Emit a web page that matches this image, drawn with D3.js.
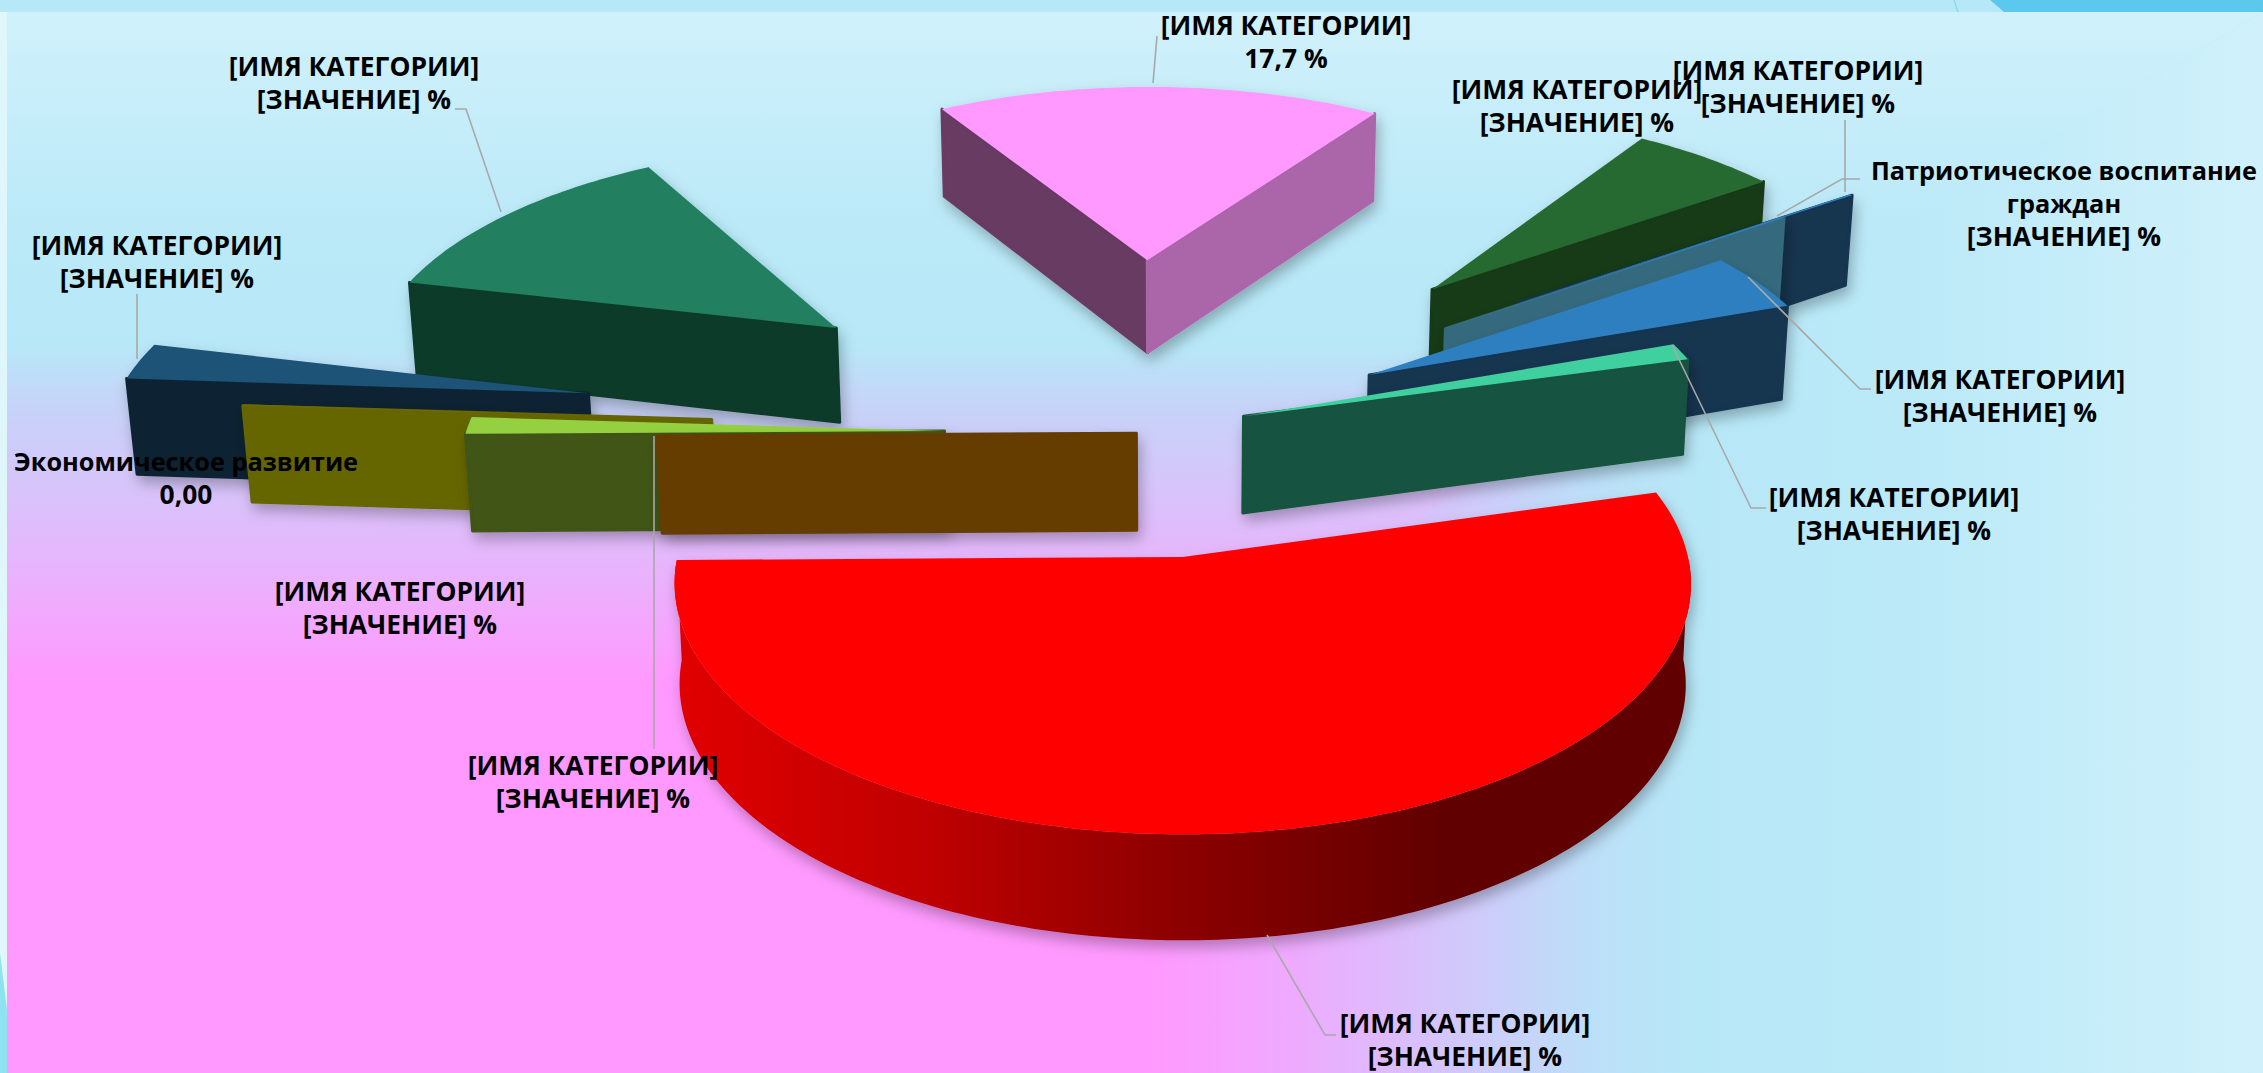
<!DOCTYPE html>
<html>
<head>
<meta charset="utf-8">
<script src="https://d3js.org/d3.v7.min.js"></script>
<style>
html, body { margin: 0; padding: 0; background: #b7e8f7; }
svg { display: block; }
text { font-family: "Open Sans", sans-serif; font-weight: 700; fill: #000; }
</style>
</head>
<body>
<svg class="container" width="2263" height="1073"></svg>
<script>
// slices clockwise, starting from the big red one
let categories = ["[ИМЯ КАТЕГОРИИ]", "Экономическое развитие", "[ИМЯ КАТЕГОРИИ]", "[ИМЯ КАТЕГОРИИ]", "[ИМЯ КАТЕГОРИИ]",
    "[ИМЯ КАТЕГОРИИ]", "[ИМЯ КАТЕГОРИИ]", "[ИМЯ КАТЕГОРИИ]", "Патриотическое воспитание граждан", "[ИМЯ КАТЕГОРИИ]",
    "[ИМЯ КАТЕГОРИИ]", "[ИМЯ КАТЕГОРИИ]"];
let values = [54.0, 0, 1.2, 0.1, 2.6, 12.8, 17.7, 5.8, 0.1, 0.1, 4.2, 1.2];
let valueLabels = ["[ЗНАЧЕНИЕ] %", "0,00", "[ЗНАЧЕНИЕ] %", "[ЗНАЧЕНИЕ] %", "[ЗНАЧЕНИЕ] %", "[ЗНАЧЕНИЕ] %",
    "17,7 %", "[ЗНАЧЕНИЕ] %", "[ЗНАЧЕНИЕ] %", "[ЗНАЧЕНИЕ] %", "[ЗНАЧЕНИЕ] %", "[ЗНАЧЕНИЕ] %"];

// explosion of each slice, in pie radii, and how far it leaves the bisector (degrees)
let explode = [0.541, 0.082, 0.482, 0.975, 1.259, 0.885, 0.83, 0.887, 0.762, 0.978, 0.488, 0.157];
let explodeTilt = [6.5, -9.5, -2, -1, -1, -3.5, -5.8, -3.5, -3.4, -3.4, -4, -5.6];

let topColors = ["#ff0000", "#774400", "#94d040", "#706800", "#1a5276", "#208060", "#ff99ff", "#286a30", "#2e7fc0", "#2e7fc0", "#2e7fc0", "#40d0a0"];
let startWallColors = ["#600000", "#663c00", "#3f5418", "#666600", "#0c2233", "#0e3a2b", "#673a63", "#163a16", "#356b7e", "#13344f", "#13344f", "#19533f"];
let endWallColors = ["#600000", "#663c00", "#3f5418", "#666600", "#0c2233", "#0e3a2b", "#ab65a9", "#163a16", "#356b7e", "#13344f", "#13344f", "#19533f"];

let labelCenters = [[1465, 1024], [186, 462], [593, 766], [400, 592], [157, 246], [354, 67], [1286, 26], [1577, 90], [2064, 171], [1798, 71], [2000, 380], [1894, 498]];
let leaders = [
    [[1267, 935], [1325, 1035], [1336, 1035]],
    [],
    [[654, 436], [654, 749]],
    [],
    [[137, 294], [137, 359]],
    [[455, 109], [466, 109], [501, 212]],
    [[1157, 36], [1153, 83]],
    [],
    [[1860, 179], [1842, 179], [1777, 216]],
    [[1845, 120], [1845, 192]],
    [[1871, 389], [1860, 389], [1748, 277]],
    [[1766, 508], [1751, 508], [1672, 345]]
];

let centerX = 1175;
let centerY = 430;
let perspective = 0.1;
let depth = 97;
let xScale = d3.scaleLinear().domain([0, 1]).range([0, 478]);
let yScale = d3.scaleLinear().domain([0, 1]).range([0, 222]);
let svg = d3.select(".container");
let defs = svg.append("defs");

drawBackground();

let pieData = d3.pie().sort(null).value(d => d)
    .startAngle(rad(74.5)).endAngle(rad(434.5))(values);
let slices = pieData.map(buildSlice);
let drawOrder = slices.slice().sort((a, b) => a.apexY - b.apexY);
drawOrder.forEach(drawSlice);
drawLeaders();
drawLabels();


function rad(deg) {
    return deg * Math.PI / 180;
}
function project(x, y, dropped) {
    let s = 1 / (1 - perspective * y);
    let px = centerX + xScale(x) * s;
    let py = centerY + yScale(y) * s;
    if (dropped) {
        px = centerX + (px - centerX) * 0.99;
        py += depth * (1 + 0.06 * y);
    }
    return [px, py];
}
function buildSlice(d, i) {
    let dir = (d.startAngle + d.endAngle) / 2 + rad(explodeTilt[i]);
    return {
        index: i,
        a0: d.startAngle,
        a1: d.endAngle,
        apexX: explode[i] * Math.sin(dir),
        apexY: -explode[i] * Math.cos(dir)
    };
}
function rimPoint(slice, a, dropped) {
    return project(slice.apexX + Math.sin(a), slice.apexY - Math.cos(a), dropped);
}
function closedPath(points) {
    return d3.line()(points) + "Z";
}
function radialWall(slice, a) {
    let apex = project(slice.apexX, slice.apexY, false);
    let apexDrop = project(slice.apexX, slice.apexY, true);
    return closedPath([apex, rimPoint(slice, a, false), rimPoint(slice, a, true), apexDrop]);
}
function drawSlice(slice) {
    let i = slice.index;
    let g = svg.append("g").attr("filter", "url(#softShadow)");

    // radial walls, only those that face the viewer
    if (Math.sin(slice.a0) < 0) {
        g.append("path").attr("d", radialWall(slice, slice.a0))
            .attr("fill", startWallColors[i]).attr("stroke", startWallColors[i])
            .attr("stroke-width", 3).attr("stroke-linejoin", "round");
    }
    if (Math.sin(slice.a1) > 0) {
        g.append("path").attr("d", radialWall(slice, slice.a1))
            .attr("fill", endWallColors[i]).attr("stroke", endWallColors[i])
            .attr("stroke-width", 3).attr("stroke-linejoin", "round");
    }

    // outer wall, front half of the rim
    let frontAngles = d3.range(slice.a0, slice.a1, rad(1)).concat([slice.a1])
        .filter(a => Math.cos(a) < 0);
    if (frontAngles.length > 1) {
        let upper = frontAngles.map(a => rimPoint(slice, a, false));
        let lower = frontAngles.map(a => rimPoint(slice, a, true)).reverse();
        let fill = i === 0 ? "url(#redWall)" : endWallColors[i];
        g.append("path").attr("d", closedPath(upper.concat(lower))).attr("fill", fill);
    }

    // top face
    let angles = d3.range(slice.a0, slice.a1, rad(1)).concat([slice.a1]);
    let face = [project(slice.apexX, slice.apexY, false)].concat(angles.map(a => rimPoint(slice, a, false)));
    g.append("path").attr("d", closedPath(face))
        .attr("fill", topColors[i]);
}
function drawLeaders() {
    svg.append("g").selectAll("path")
        .data(leaders.filter(l => l.length > 0))
        .enter()
        .append("path")
        .attr("d", d3.line())
        .attr("fill", "none")
        .attr("stroke", "#a8a8a8")
        .attr("stroke-width", 1.6);
}
function drawLabels() {
    let labels = svg.append("g").selectAll("text")
        .data(categories.map((c, i) => ({ name: c, value: valueLabels[i], pos: labelCenters[i] })))
        .enter()
        .append("text")
        .attr("text-anchor", "middle")
        .attr("x", d => d.pos[0])
        .attr("y", d => d.pos[1] + 9);
    labels.each(function (d) {
        let lines = d.name === "Патриотическое воспитание граждан"
            ? ["Патриотическое воспитание", "граждан", d.value]
            : [d.name, d.value];
        d3.select(this).selectAll("tspan")
            .data(lines)
            .enter()
            .append("tspan")
            .attr("x", d.pos[0])
            .attr("dy", (l, n) => n === 0 ? 0 : 33)
            .attr("font-size", l => /[а-я]/.test(l) ? 25.3 : 26.4)
            .text(l => l);
    });
}
function drawBackground() {
    let shadow = defs.append("filter").attr("id", "softShadow")
        .attr("filterUnits", "userSpaceOnUse")
        .attr("x", 0).attr("y", 0).attr("width", 2263).attr("height", 1073);
    shadow.append("feDropShadow").attr("dx", 3).attr("dy", 7).attr("stdDeviation", 7)
        .attr("flood-color", "#000").attr("flood-opacity", 0.28);

    addGradient("redWall", 678, 0, 1450, 0, [[0, "#e00000"], [0.32, "#c00000"], [0.65, "#8c0000"], [1, "#600000"]]);
    addGradient("bgRight", 1150, 0, 2263, 0, [[0, "#ff99ff"], [0.13, "#eeaafe"], [0.263, "#d4c5fb"], [0.395, "#bcdff8"], [0.495, "#b7e8f7"], [0.68, "#bbe9f8"], [1, "#d0f1fb"]]);
    addGradient("bgTop", 0, 680, 0, 12, [[0, "#ff99ff"], [0.18, "#e6b6fc"], [0.42, "#c5d5f8"], [0.5, "#b7e8f7"], [0.68, "#bbe9f8"], [1, "#d0f1fb"]]);

    svg.append("rect").attr("width", 2263).attr("height", 1073).attr("fill", "#b7e8f7");
    svg.append("rect").attr("x", 0).attr("y", 12).attr("width", 7).attr("height", 1061).attr("fill", "#dff6fb");
    svg.append("path").attr("d", "M0,953L7,1010L7,1073L0,1073Z").attr("fill", "#8fe3f0");
    svg.append("path").attr("d", "M1990,0L2263,0L2263,12L2004,12Z").attr("fill", "#5cc8ee");
    svg.append("path").attr("d", "M1954,0L1958,12").attr("stroke", "#90d8f0").attr("stroke-width", 1.5);

    svg.append("rect").attr("x", 7).attr("y", 680).attr("width", 1143).attr("height", 393).attr("fill", "#ff99ff");
    svg.append("path").attr("d", "M1150,680L2263,12L2263,1073L1150,1073Z").attr("fill", "url(#bgRight)");
    svg.append("path").attr("d", "M1150,680L2263,12L7,12L7,680Z").attr("fill", "url(#bgTop)");
}
function addGradient(id, x1, y1, x2, y2, stops) {
    let g = defs.append("linearGradient").attr("id", id)
        .attr("gradientUnits", "userSpaceOnUse")
        .attr("x1", x1).attr("y1", y1).attr("x2", x2).attr("y2", y2);
    stops.forEach(s => g.append("stop").attr("offset", s[0]).attr("stop-color", s[1]));
}
</script>
</body>
</html>
